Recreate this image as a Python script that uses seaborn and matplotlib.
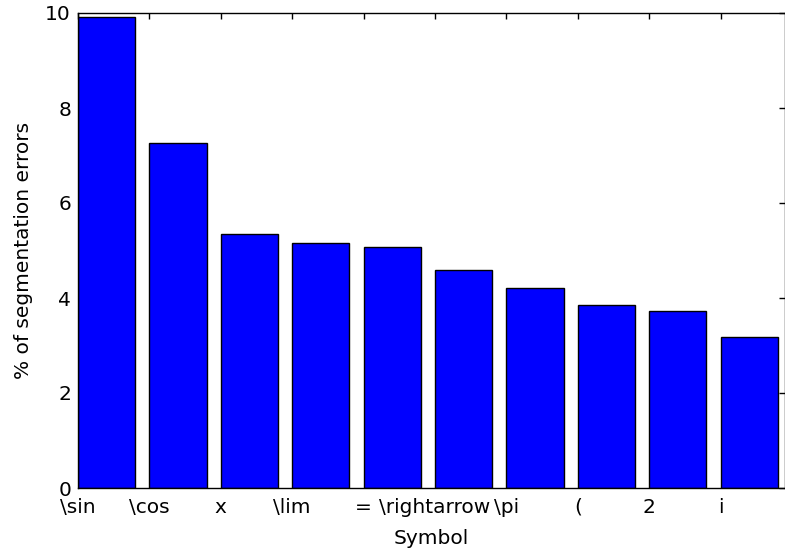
import matplotlib
matplotlib.use("Agg")
import matplotlib.pyplot as plt
import seaborn as sns
import pandas as pd

symbols = ["\\sin", "\\cos", "x", "\\lim", "=", "\\rightarrow", "\\pi", "(", "2", "i"]
errors = [9.92, 7.26, 5.34, 5.15, 5.07, 4.58, 4.22, 3.86, 3.72, 3.18]

sns.set_style("white")
plt.rcParams.update({
    "font.family": ["DejaVu Sans"],
    "font.size": 14.5,
    "xtick.direction": "in",
    "ytick.direction": "in",
    "xtick.top": True,
    "ytick.right": True,
    "xtick.major.size": 4,
    "ytick.major.size": 4,
    "axes.edgecolor": "black",
    "axes.linewidth": 1.0,
    "text.color": "black",
    "xtick.color": "black",
    "ytick.color": "black",
    "axes.labelcolor": "black",
})

df = pd.DataFrame({"Symbol": symbols, "err": errors})

fig = plt.figure(figsize=(7.85, 5.52), dpi=100)
ax = fig.add_axes([78 / 785, 1 - 488 / 552, (785 - 78) / 785, (488 - 13) / 552])

sns.barplot(data=df, x="Symbol", y="err", color="blue", saturation=1,
            width=0.8, edgecolor="black", linewidth=1.0, ax=ax, errorbar=None)

n = len(symbols)
ax.set_xlim(-0.4, n - 1 + 0.5)
ax.set_xticks([i - 0.4 for i in range(n)])
ax.set_xticklabels(symbols, fontsize=14.5)
ax.set_ylim(0, 10)
ax.set_yticks([0, 2, 4, 6, 8, 10])
ax.tick_params(axis="both", labelsize=14.5, width=1)
ax.tick_params(axis="x", pad=7)
ax.tick_params(axis="y", pad=5)
ax.set_xlabel("Symbol", fontsize=14.5, labelpad=9)
ax.set_ylabel("% of segmentation errors", fontsize=14.5, labelpad=9)
for s in ax.spines.values():
    s.set_visible(True)

fig.savefig("out.png", dpi=100)
